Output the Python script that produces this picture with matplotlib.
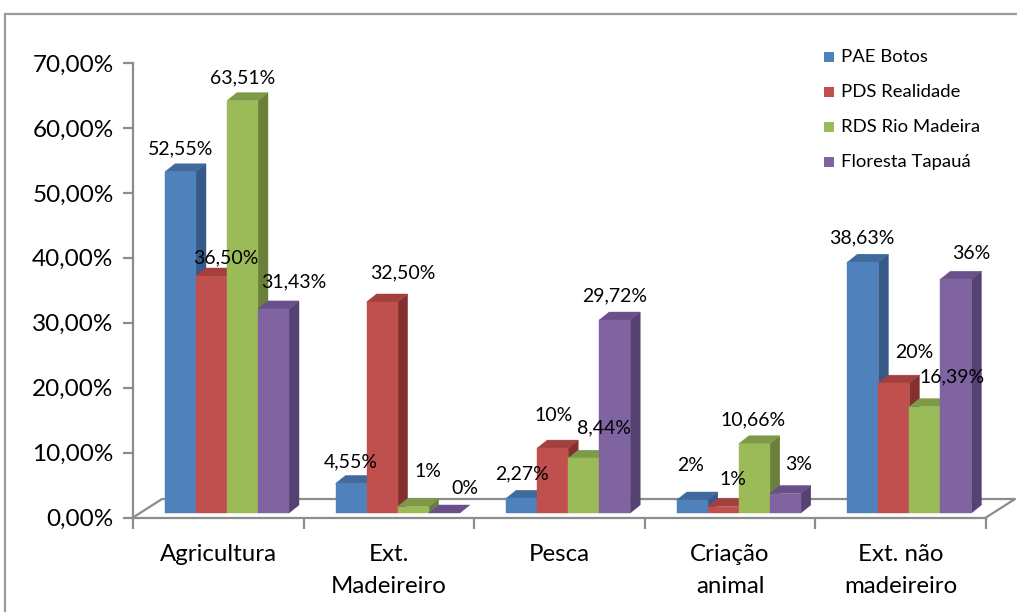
import matplotlib
matplotlib.use('Agg')
import matplotlib.pyplot as plt
from matplotlib.patches import Rectangle

# ---------------- data ----------------
categories = ['Agricultura', 'Ext.\nMadeireiro', 'Pesca', 'Criação\nanimal', 'Ext. não\nmadeireiro']
series_names = ['PAE Botos', 'PDS Realidade', 'RDS Rio Madeira', 'Floresta Tapauá']
pae_botos = [52.55, 4.55, 2.27, 2, 38.63]
pds_realidade = [36.50, 32.50, 10, 1, 20]
rds_rio_madeira = [63.51, 1, 8.44, 10.66, 16.39]
floresta_tapaua = [31.43, 0, 29.72, 3, 36]
labels_pae = ['52,55%', '4,55%', '2,27%', '2%', '38,63%']
labels_pds = ['36,50%', '32,50%', '10%', '1%', '20%']
labels_rds = ['63,51%', '1%', '8,44%', '10,66%', '16,39%']
labels_flo = ['31,43%', '0%', '29,72%', '3%', '36%']
yticks = [0, 10, 20, 30, 40, 50, 60, 70]
ytick_labels = ['0,00%', '10,00%', '20,00%', '30,00%', '40,00%', '50,00%', '60,00%', '70,00%']

values = [pae_botos, pds_realidade, rds_rio_madeira, floresta_tapaua]
labels = [labels_pae, labels_pds, labels_rds, labels_flo]

# ---------------- style ----------------
front_c = ['#4F81BD', '#C0504D', '#9BBB59', '#8064A2']
side_c = ['#36598A', '#83302E', '#6A803A', '#564272']
top_c = ['#40699C', '#A3403D', '#7E9A48', '#6A5089']
grey = '#8C8C8C'
FONT = 'Lato'

# label offsets in pixels (dx right, dy above front top)
label_off = [
    [(0, 23), (0, 22), (0, 24), (-2, 35), (-1, 24)],
    [(14, 18), (21, 29), (1, 33), (10, 27), (20, 31)],
    [(0, 23), (15, 35), (20, 30), (-1, 24), (27, 30)],
    [(20, 27), (21, 25), (0, 24), (13, 29), (15, 26)],
]

W, H = 1017, 612
fig = plt.figure(figsize=(W / 100, H / 100), dpi=100)
fig.patch.set_facecolor('white')

# outer chart border
fig.patches.append(Rectangle((5 / W, -0.1), 1.2, (H - 14) / H + 0.1, transform=fig.transFigure,
                             fill=False, edgecolor='#9A9A9A', lw=1.6))

ax_left, ax_right, ax_bot, ax_top = 133, 986, 517.5, 63
ax = fig.add_axes([ax_left / W, (H - ax_bot) / H, (ax_right - ax_left) / W, (ax_bot - ax_top) / H])
ax.set_xlim(0, 5)
ax.set_ylim(0, 70)
ax.patch.set_alpha(0)

pxx = 5 / (ax_right - ax_left)      # data units per pixel (x)
pxy = 70 / (ax_bot - ax_top)         # data units per pixel (y)

for s in ['top', 'right']:
    ax.spines[s].set_visible(False)
for s in ['left', 'bottom']:
    ax.spines[s].set_color(grey)
    ax.spines[s].set_linewidth(1.6)

ax.set_yticks(yticks)
ax.set_yticklabels(ytick_labels, fontsize=17.5, family=FONT)
ax.tick_params(axis='y', length=7, width=1.6, color=grey, pad=7)
ax.set_xticks(range(6))
ax.set_xticklabels([''] * 6)
ax.tick_params(axis='x', length=8, width=1.6, color=grey)

# floor
fdx, fdy = 29 * pxx, 18.5 * pxy
ax.plot([0, fdx, 5 + fdx, 5], [0, fdy, fdy, 0], color=grey, lw=1.6, clip_on=False, zorder=1)

# bars
base = 4.5 * pxy
bw = 31 * pxx
ddx, ddy = 10 * pxx, 8 * pxy
start = -53.3 * pxx
for i in range(len(categories)):
    for k in range(len(values)):
        v = values[k][i]
        x0 = i + 0.5 + start + k * bw
        y0, y1 = base, base + v
        z = 3 + i * 10 + k
        ax.fill([x0 + bw, x0 + bw + ddx, x0 + bw + ddx, x0 + bw],
                [y0, y0 + ddy, y1 + ddy, y1], color=side_c[k], lw=0.3, zorder=z, clip_on=False)
        ax.fill([x0, x0 + ddx, x0 + bw + ddx, x0 + bw],
                [y1, y1 + ddy, y1 + ddy, y1], color=top_c[k], lw=0.3, zorder=z, clip_on=False)
        if v > 0:
            ax.fill([x0, x0 + bw, x0 + bw, x0], [y0, y0, y1, y1], color=front_c[k], lw=0.3,
                    zorder=z, clip_on=False)
        ox, oy = label_off[k][i]
        ax.text(x0 + bw / 2 + ox * pxx, y1 + oy * pxy, labels[k][i], ha='center', va='center',
                fontsize=14, family=FONT, zorder=200, clip_on=False)

# category labels
for i, c in enumerate(categories):
    ax.text(i + 0.5, -(544 - ax_bot) * pxy, c, ha='center', va='top', fontsize=17.3, family=FONT,
            linespacing=1.62, clip_on=False)

# legend
for r, name in enumerate(series_names):
    yc = 57 + 35 * r
    fig.patches.append(Rectangle((824 / W, (H - yc - 5) / H), 10 / W, 10 / H, transform=fig.transFigure,
                                 facecolor=front_c[r], edgecolor='none'))
    fig.text(841 / W, (H - yc) / H, name, ha='left', va='center', fontsize=13.3, family=FONT)

fig.savefig('out.png', dpi=100)
